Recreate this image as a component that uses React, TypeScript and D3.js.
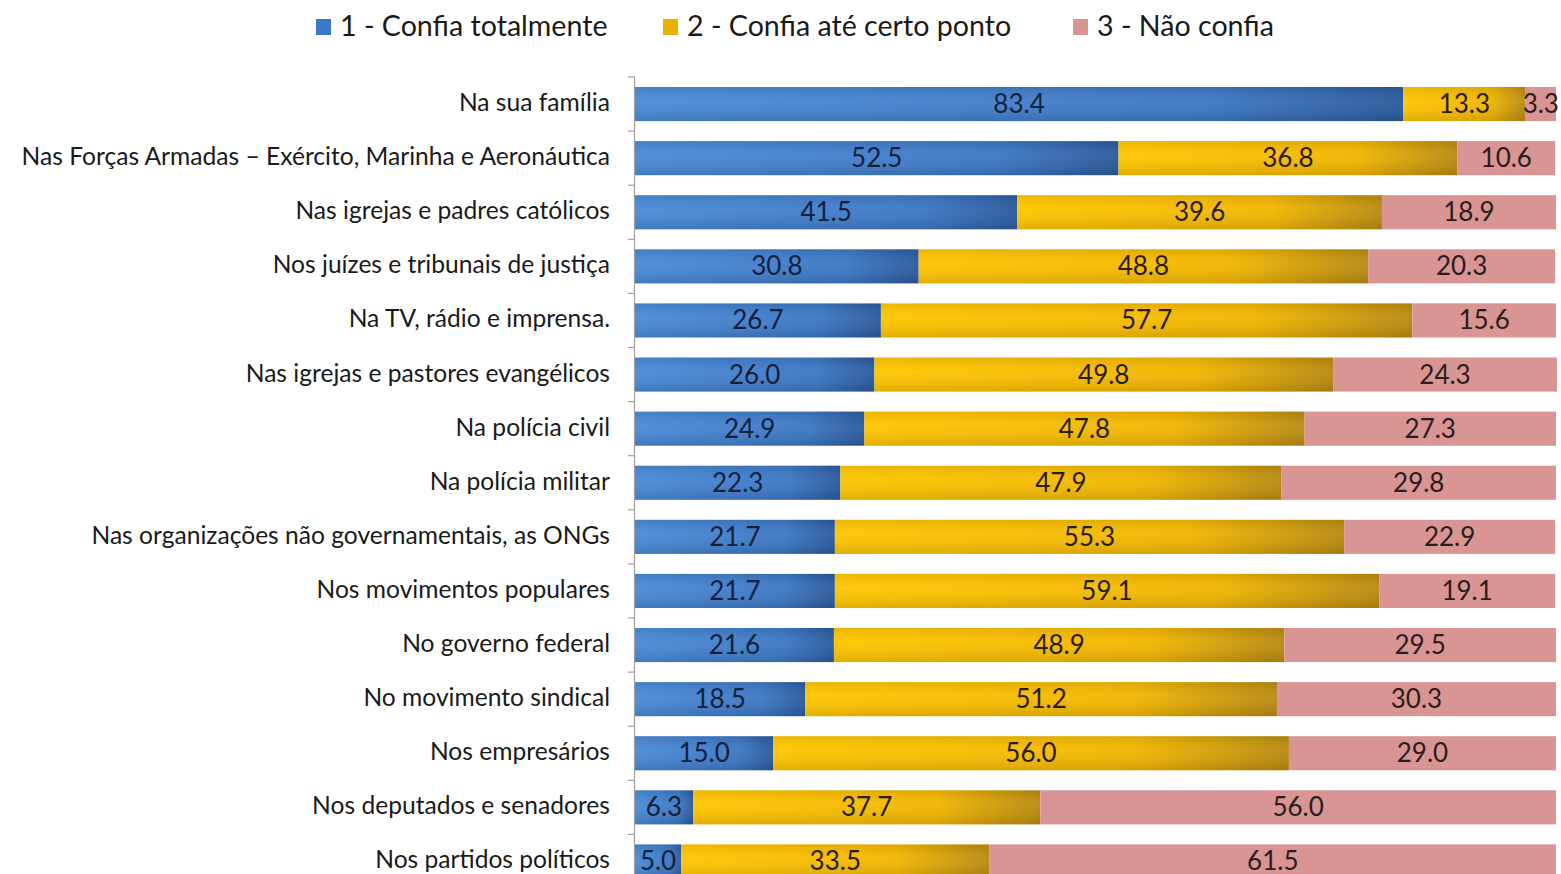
import React from "react";
import * as d3 from "d3";

const categories = [
  "Na sua família",
  "Nas Forças Armadas – Exército, Marinha e Aeronáutica",
  "Nas igrejas e padres católicos",
  "Nos juízes e tribunais de justiça",
  "Na TV, rádio e imprensa.",
  "Nas igrejas e pastores evangélicos",
  "Na polícia civil",
  "Na polícia militar",
  "Nas organizações não governamentais, as ONGs",
  "Nos movimentos populares",
  "No governo federal",
  "No movimento sindical",
  "Nos empresários",
  "Nos deputados e senadores",
  "Nos partidos políticos",
];
const confiaTotalmente = [83.4, 52.5, 41.5, 30.8, 26.7, 26.0, 24.9, 22.3, 21.7, 21.7, 21.6, 18.5, 15.0, 6.3, 5.0];
const confiaAteCerto = [13.3, 36.8, 39.6, 48.8, 57.7, 49.8, 47.8, 47.9, 55.3, 59.1, 48.9, 51.2, 56.0, 37.7, 33.5];
const naoConfia = [3.3, 10.6, 18.9, 20.3, 15.6, 24.3, 27.3, 29.8, 22.9, 19.1, 29.5, 30.3, 29.0, 56.0, 61.5];
const seriesNames = ["1 - Confia totalmente", "2 - Confia até certo ponto", "3 - Não confia"];

const W = 1561;
const H = 874;
const FONT = "Lato, 'Open Sans', sans-serif";

export default function App() {
  const x = d3.scaleLinear().domain([0, 100]).range([635, 1556]);
  const y = d3.scaleBand<string>().domain(categories).range([77, 77 + 15 * 54.1]).paddingInner(0.37).paddingOuter(0.185);
  const rows = categories.map((c, i) => ({ c, v: [confiaTotalmente[i], confiaAteCerto[i], naoConfia[i]] }));
  const fills = ["url(#gBlue)", "url(#gGold)", "#d99494"];
  const labelColors = ["#14213d", "#2b1d0e", "#2b1d1d"];
  const legendColors = ["#3c78c8", "#e8b000", "#d99494"];
  const legendX = [316, 663, 1073];
  const ticks = d3.range(categories.length + 1).map((i) => 77 + i * 54.1);

  return (
    <svg width={W} height={H} style={{ position: "absolute", left: 0, top: 0, background: "#fff" }}>
      <defs>
        <linearGradient id="gBlue" x1="0" x2="1" y1="0" y2="0">
          <stop offset="0" stopColor="#4a8ad8" />
          <stop offset="0.75" stopColor="#3c77c4" />
          <stop offset="1" stopColor="#2a5a9c" />
        </linearGradient>
        <linearGradient id="gGold" x1="0" x2="1" y1="0" y2="0">
          <stop offset="0" stopColor="#ffc600" />
          <stop offset="0.7" stopColor="#f2b600" />
          <stop offset="1" stopColor="#b88a10" />
        </linearGradient>
        <linearGradient id="gShade" x1="0" x2="0" y1="0" y2="1">
          <stop offset="0" stopColor="#000" stopOpacity="0.08" />
          <stop offset="0.4" stopColor="#fff" stopOpacity="0.05" />
          <stop offset="1" stopColor="#000" stopOpacity="0.12" />
        </linearGradient>
      </defs>
      <rect x={0} y={0} width={W} height={H} fill="#fff" />
      {/* legend */}
      {seriesNames.map((s, i) => (
        <g key={s}>
          <rect x={legendX[i]} y={19} width={15} height={16} fill={legendColors[i]} />
          <text x={legendX[i] + 24} y={36} fontFamily={FONT} fontSize={28.6} fill="#1a1a1a">{s}</text>
        </g>
      ))}
      {/* bars */}
      {rows.map((r, i) => {
        let acc = 0;
        const by = y(r.c)!;
        const bh = y.bandwidth();
        return (
          <g key={r.c}>
            {r.v.map((v, k) => {
              const x0 = x(acc);
              acc += v;
              const x1 = x(acc);
              return (
                <g key={k}>
                  <rect x={x0} y={by} width={x1 - x0} height={bh} fill={fills[k]} />
                  {k < 2 && <rect x={x0} y={by} width={x1 - x0} height={bh} fill="url(#gShade)" />}
                  <text x={(x0 + x1) / 2} y={by + bh / 2 + 9} textAnchor="middle" fontFamily={FONT} fontSize={26} fill={labelColors[k]}>
                    {v.toFixed(1)}
                  </text>
                </g>
              );
            })}
            <text x={610} y={by + bh / 2 + 7} textAnchor="end" fontFamily={FONT} fontSize={24.6} fill="#1a1a1a">{r.c}</text>
          </g>
        );
      })}
      {/* axis */}
      <line x1={634.5} x2={634.5} y1={77} y2={H} stroke="#a0a0a0" strokeWidth={1.2} />
      {ticks.map((t, i) => (
        <line key={i} x1={628} x2={635} y1={t} y2={t} stroke="#a0a0a0" strokeWidth={1.2} />
      ))}
    </svg>
  );
}
